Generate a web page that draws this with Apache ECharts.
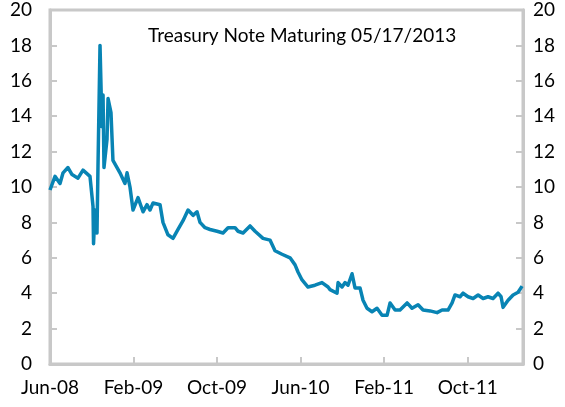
<!DOCTYPE html>
<html>
<head>
    <meta charset="utf-8">
    <title>Treasury Note Maturing 05/17/2013</title>
    <script src="https://cdn.jsdelivr.net/npm/echarts@6/dist/echarts.min.js"></script>
    <style>
        html, body { margin: 0; padding: 0; background: #fff; }
        #chart { width: 565px; height: 407px; }
    </style>
</head>
<body>
<div id="chart"></div>
<script>
    // x = months since Jun 2008, y = value
    var months = [0.0, 0.19, 0.48, 0.96, 1.25, 1.72, 2.11, 2.68, 3.16, 3.83, 4.12, 4.17, 4.31, 4.50, 4.60,
        4.79, 4.98, 5.08, 5.17, 5.46, 5.56, 5.75, 5.84, 6.03, 6.42, 6.70, 7.18, 7.38, 7.66, 7.95,
        8.43, 8.91, 9.29, 9.58, 9.87, 10.54, 10.82, 11.30, 11.78, 12.26, 12.74, 13.22, 13.70, 14.08,
        14.37, 14.85, 15.33, 16.00, 16.57, 17.05, 17.72, 18.01, 18.49, 19.16, 19.64, 20.40, 21.07,
        21.55, 22.22, 22.99, 23.47, 23.75, 24.14, 24.71, 25.38, 26.05, 26.63, 26.82, 27.49, 27.59,
        27.97, 28.26, 28.54, 28.93, 29.21, 29.69, 29.98, 30.36, 30.84, 31.32, 31.80, 32.28, 32.57,
        33.05, 33.52, 34.20, 34.67, 35.25, 35.73, 36.40, 37.07, 37.55, 38.12, 38.51, 38.79, 39.27,
        39.56, 40.04, 40.52, 41.00, 41.48, 41.95, 42.43, 42.91, 43.20, 43.39, 43.87, 44.35, 44.83, 45.21];
    var values = [9.83, 9.9, 10.6, 10.2, 10.8, 11.1, 10.7, 10.5, 10.95, 10.6, 8.9, 6.8, 8.7, 7.4, 11.3,
        18.0, 13.4, 15.2, 11.1, 12.7, 15.0, 15.0, 14.2, 11.5, 11.1, 10.8, 10.2, 10.8, 10.0, 8.7,
        9.4, 8.6, 9.0, 8.7, 9.1, 9.0, 8.0, 7.3, 7.1, 7.6, 8.1, 8.7, 8.4, 8.6,
        8.0, 7.7, 7.6, 7.5, 7.4, 7.7, 7.7, 7.5, 7.4, 7.8, 7.5, 7.1, 7.0,
        6.4, 6.2, 6.0, 5.6, 5.2, 4.75, 4.35, 4.45, 4.6, 4.35, 4.2, 4.0, 4.6,
        4.35, 4.6, 4.45, 5.1, 4.3, 4.3, 3.6, 3.15, 2.95, 3.15, 2.75, 2.75, 3.45,
        3.05, 3.05, 3.45, 3.15, 3.35, 3.05, 3.0, 2.9, 3.05, 3.05, 3.45, 3.9, 3.8,
        4.0, 3.8, 3.7, 3.9, 3.7, 3.8, 3.7, 4.0, 3.8, 3.2, 3.6, 3.9, 4.05, 4.4];
    var tickLabels = ['Jun-08', 'Feb-09', 'Oct-09', 'Jun-10', 'Feb-11', 'Oct-11'];
    var title = 'Treasury Note Maturing 05/17/2013';

    var points = months.map(function (m, i) { return [m, values[i]]; });
    var gray = '#c8c8c8';
    var font = 'Lato';

    var myChart = echarts.init(document.getElementById('chart'));
    var yAxisBase = {
        type: 'value',
        min: 0,
        max: 20,
        interval: 2,
        axisLine: { show: true, lineStyle: { color: gray, width: 3 } },
        axisTick: { show: true, inside: true, length: 7, lineStyle: { color: gray, width: 2 } },
        splitLine: { show: false },
        axisLabel: { color: '#000', fontSize: 19, fontFamily: font }
    };
    var option = {
        animation: false,
        title: {
            text: title,
            left: 143,
            top: 21,
            textStyle: { color: '#000', fontSize: 19, fontWeight: 'normal', fontFamily: font }
        },
        grid: {
            left: 50, right: 42, top: 10, bottom: 43,
            show: true, borderColor: gray, borderWidth: 3
        },
        xAxis: {
            type: 'value',
            min: 0,
            max: 45.3,
            interval: 8,
            axisLine: { show: true, onZero: false, lineStyle: { color: gray, width: 3 } },
            axisTick: { show: true, inside: true, length: 7, lineStyle: { color: gray, width: 2 } },
            splitLine: { show: false },
            axisLabel: {
                color: '#000', fontSize: 19, fontFamily: font, margin: 14,
                showMaxLabel: false,
                formatter: function (v) {
                    var k = Math.round(v / 8);
                    return Math.abs(v - k * 8) < 1e-6 ? (tickLabels[k] || '') : '';
                }
            }
        },
        yAxis: [
            Object.assign({}, yAxisBase, {
                position: 'left',
                axisLabel: Object.assign({}, yAxisBase.axisLabel, { margin: 18 })
            }),
            Object.assign({}, yAxisBase, {
                position: 'right',
                axisLabel: Object.assign({}, yAxisBase.axisLabel, { margin: 10 })
            })
        ],
        series: [{
            type: 'line',
            data: points,
            showSymbol: false,
            lineStyle: { color: '#0884b4', width: 3.5, join: 'round' },
            itemStyle: { color: '#0884b4' }
        }]
    };
    myChart.setOption(option);
</script>
</body>
</html>
